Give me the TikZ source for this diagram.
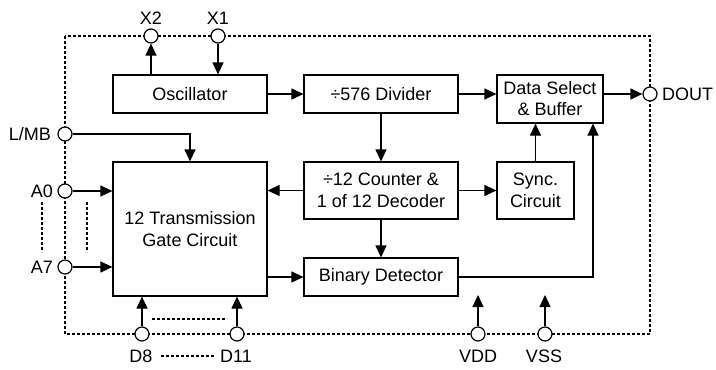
\documentclass[tikz,border=0pt]{standalone}
\usepackage{fontspec}
\setmainfont{Liberation Sans}
\usetikzlibrary{arrows.meta,calc}
\begin{document}
\begin{tikzpicture}[x=1pt,y=-1pt,
  every node/.style={font=\fontsize{18}{22}\selectfont},
  blk/.style={draw,line width=1.2pt,fill=white,align=center,inner sep=0pt},
  pin/.style={draw,circle,fill=white,line width=1.2pt,minimum size=14pt,inner sep=0pt},
  conn/.style={line width=1.2pt,-{Triangle[length=12pt,width=11pt]}},
  plain/.style={line width=1.2pt},
  dsh/.style={line width=1.1pt,dash pattern=on 3pt off 2pt},
  lbl/.style={inner sep=0pt}]
\useasboundingbox (0,0) rectangle (716,370);
% border
\draw[dsh] (65,36) rectangle (650,334);
% blocks
\node[blk,minimum width=154pt,minimum height=38pt] (osc) at (190,94) {Oscillator};
\node[blk,minimum width=154pt,minimum height=38pt] (div) at (381,94) {÷576 Divider};
\node[blk,minimum width=106pt,minimum height=48pt] (data) at (550,99) {Data Select\\[-1pt]\& Buffer};
\node[blk,minimum width=154pt,minimum height=134pt] (trans) at (190,229) {\fontsize{18}{27}\selectfont 12 Transmission\\Gate Circuit};
\node[blk,minimum width=154pt,minimum height=57pt] (cnt) at (381,190.5) {÷12 Counter \&\\1 of 12 Decoder};
\node[blk,minimum width=77pt,minimum height=57pt] (sync) at (535.5,190.5) {Sync.\\Circuit};
\node[blk,minimum width=154pt,minimum height=38pt] (bin) at (381,277) {Binary Detector};
% pins
\node[pin] (x2) at (151,36) {};
\node[pin] (x1) at (218,36) {};
\node[pin] (lmb) at (65,134) {};
\node[pin] (a0) at (65,191) {};
\node[pin] (a7) at (65,267) {};
\node[pin] (d8) at (142,334) {};
\node[pin] (d11) at (237,334) {};
\node[pin] (vdd) at (478,334) {};
\node[pin] (vss) at (545,334) {};
\node[pin] (dout) at (650,94) {};
% labels
\node[lbl] (lx2) at (151,18) {X2};
\node[lbl] (lx1) at (218,18) {X1};
\node[lbl,anchor=east] (llmb) at (51,134) {L/MB};
\node[lbl,anchor=east] (la0) at (53,191) {A0};
\node[lbl,anchor=east] (la7) at (53,267) {A7};
\node[lbl] (ld8) at (141,356) {D8};
\node[lbl] (ld11) at (236,356) {D11};
\node[lbl] (lvdd) at (478,356) {VDD};
\node[lbl] (lvss) at (544,356) {VSS};
\node[lbl,anchor=west] (ldout) at (662,94) {DOUT};
% connectors
\draw[conn] (osc.north -| x2) -- (x2.south);
\draw[conn] (x1.south) -- (osc.north -| x1);
\draw[conn] (osc.east) -- (div.west);
\draw[conn] (div.east) -- (div.east -| data.west);
\draw[conn] (data.east |- dout) -- (dout.west);
\draw[conn] (div.south) -- (cnt.north);
\draw[conn] (cnt.south) -- (bin.north);
\draw[conn] (cnt.west) -- (cnt.west -| trans.east);
\draw[conn] (cnt.east) -- (sync.west);
\draw[conn] (sync.north) -- (sync.north |- data.south);
\draw[conn] (bin.west -| trans.east) -- (bin.west);
\coordinate (dr) at ($(data.south)+(43,0)$);
\draw[conn] (bin.east) -| (dr);
\draw[conn] (lmb.east) -| (trans.north);
\draw[conn] (a0.east) -- (a0 -| trans.west);
\draw[conn] (a7.east) -- (a7 -| trans.west);
\draw[conn] (d8.north) -- (d8 |- trans.south);
\draw[conn] (d11.north) -- (d11 |- trans.south);
\coordinate (vddt) at (478,295);
\coordinate (vsst) at (545,295);
\draw[conn] (vdd.north) -- (vddt);
\draw[conn] (vss.north) -- (vsst);
% dashed ellipsis lines
\draw[dsh] (42,202) -- (42,252);
\draw[dsh] (87,202) -- (87,252);
\draw[dsh] (152,319) -- (227,319);
\draw[dsh] (ld8.east) ++(8,0) -- ($(ld11.west)+(-6,0)$);
\end{tikzpicture}
\end{document}
